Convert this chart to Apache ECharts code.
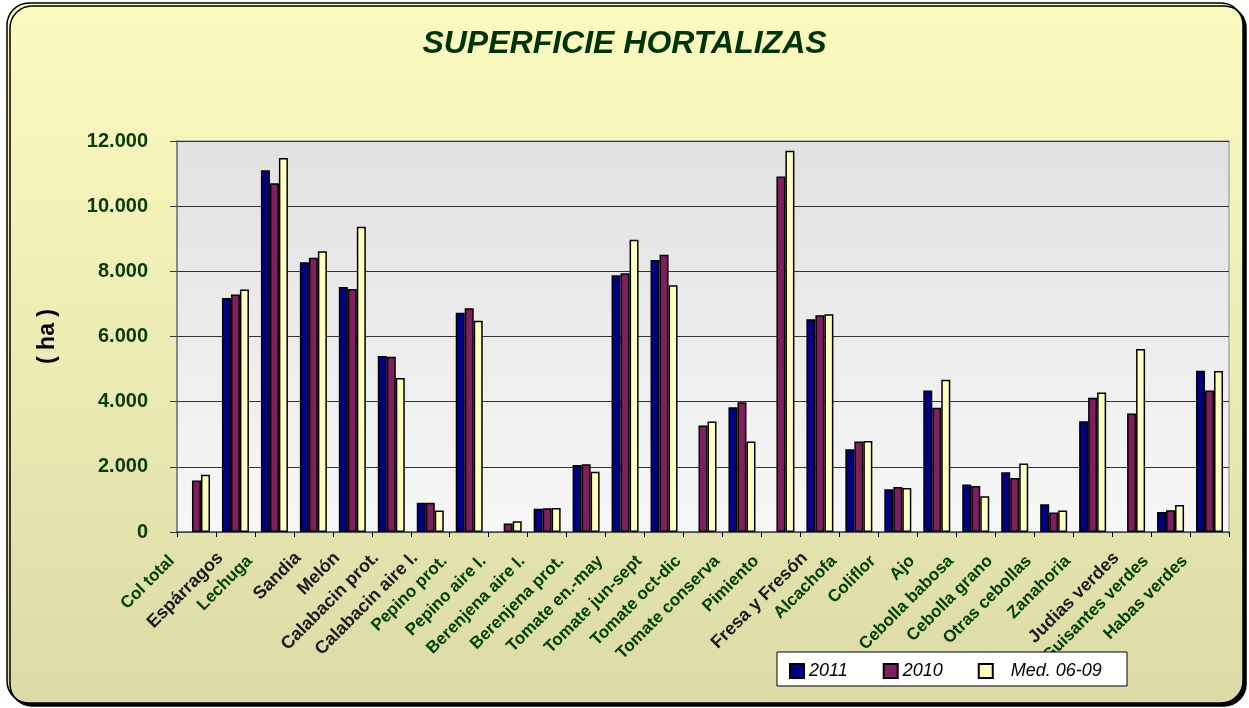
<!DOCTYPE html>
<html><head><meta charset="utf-8">
<script src="https://cdn.jsdelivr.net/npm/echarts@6/dist/echarts.min.js"></script>
<style>html,body{margin:0;padding:0;background:#fff}#c{width:1249px;height:708px}</style>
</head><body><div id="c"></div>
<script>
const categories = ['Col total','Espárragos','Lechuga','Sandia','Melón','Calabacin prot.','Calabacin aire l.','Pepino prot.','Pepino aire l.','Berenjena aire l.','Berenjena prot.','Tomate en.-may','Tomate jun-sept','Tomate oct-dic','Tomate conserva','Pimiento','Fresa y Fresón','Alcachofa','Coliflor','Ajo','Cebolla babosa','Cebolla grano','Otras cebollas','Zanahoria','Judias verdes','Guisantes verdes','Habas verdes'];
const blackLabels = ['Espárragos','Sandia','Melón','Calabacin prot.','Calabacin aire l.','Fresa y Fresón','Judias verdes'];
const seriesNames = ['2011','2010','Med. 06-09'];
const s2011 = [null,7180,11100,8280,7520,5400,900,6730,null,710,2060,7880,8350,null,3830,null,6530,2540,1310,4340,1460,1830,850,3400,null,610,4950];
const s2010 = [1580,7290,10700,8420,7460,5380,900,6870,260,730,2080,7940,8510,3270,3980,10910,6650,2780,1380,3810,1410,1660,600,4120,3640,670,4340];
const sMed  = [1760,7440,11480,8620,9370,4730,660,6480,330,740,1850,8970,7570,3390,2780,11700,6680,2790,1350,4670,1100,2100,660,4280,5620,830,4940];
const yTickLabels = ['0','2.000','4.000','6.000','8.000','10.000','12.000'];
const colors = ['#000080','#7F1F5F','#FFFFC0'];

const chart = echarts.init(document.getElementById('c'), null, {renderer:'canvas'});
const FONT = 'Arial, "Liberation Sans", sans-serif';
const mk = (name, data, color) => ({
  name, type:'bar', data, barWidth:9, barGap:'0%',
  itemStyle:{color, borderColor:'#000', borderWidth:1.5}
});
chart.setOption({
  animation:false,
  textStyle:{fontFamily:FONT},
  graphic:[
    {type:'rect', z:-10, shape:{x:7,y:3,width:1236,height:700,r:22},
     style:{fill:new echarts.graphic.LinearGradient(0,0,0,1,[{offset:0,color:'#FBFBC0'},{offset:1,color:'#DCDBA7'}]),
            stroke:'#000', lineWidth:1.5, shadowColor:'#000', shadowOffsetX:3, shadowOffsetY:3, shadowBlur:0}},
    {type:'rect', z:3, shape:{x:777,y:652,width:350,height:34},
     style:{fill:'#fff', stroke:'#000', lineWidth:1}}
  ],
  title:{text:'SUPERFICIE HORTALIZAS', left:'center', top:23,
    textStyle:{fontFamily:FONT, fontSize:32, fontWeight:'bold', fontStyle:'italic', color:'#003300'}},
  legend:{left:789, top:662, z:5, padding:0, itemWidth:14, itemHeight:14, itemGap:35, icon:'rect',
    data:[{name:'2011'},{name:'2010'},{name:'Med. 06-09', textStyle:{padding:[0,0,0,13]}}],
    textStyle:{fontFamily:FONT, fontSize:18, fontStyle:'italic', color:'#000'}},
  grid:{left:177, right:20, top:141, bottom:176, show:true, borderColor:'#AAAAAA', borderWidth:1.5,
    backgroundColor:new echarts.graphic.LinearGradient(0,0,0,1,[{offset:0,color:'#E1E1E1'},{offset:1,color:'#F7F7F7'}])},
  xAxis:{type:'category', data:categories,
    axisLine:{lineStyle:{color:'#555',width:1.5}},
    axisTick:{show:true, length:5, lineStyle:{color:'#000'}},
    axisLabel:{interval:0, rotate:45, margin:13,
      formatter:v => blackLabels.includes(v) ? '{b|'+v+'}' : '{g|'+v+'}',
      rich:{
        g:{fontFamily:FONT, fontSize:17, fontWeight:'bold', color:'#004000', padding:[0,27,16,0]},
        b:{fontFamily:FONT, fontSize:18, fontWeight:'bold', color:'#1a1a1a', padding:[0,18,7,0]}
      }}},
  yAxis:{type:'value', min:0, max:12000, interval:2000,
    name:'( ha )', nameLocation:'middle', nameGap:118, nameRotate:90,
    nameTextStyle:{fontFamily:FONT, fontSize:23, fontWeight:'bold', color:'#000'},
    axisLine:{show:true, lineStyle:{color:'#777',width:1.5}},
    axisTick:{show:true, length:7, lineStyle:{color:'#333'}},
    axisLabel:{margin:29, fontFamily:FONT, fontSize:20, fontWeight:'bold', color:'#0A3A0A',
      formatter:v => yTickLabels[Math.round(v/2000)]},
    splitLine:{lineStyle:{color:'#333',width:1}}},
  series:[mk(seriesNames[0],s2011,colors[0]), mk(seriesNames[1],s2010,colors[1]), mk(seriesNames[2],sMed,colors[2])]
});
</script></body></html>
